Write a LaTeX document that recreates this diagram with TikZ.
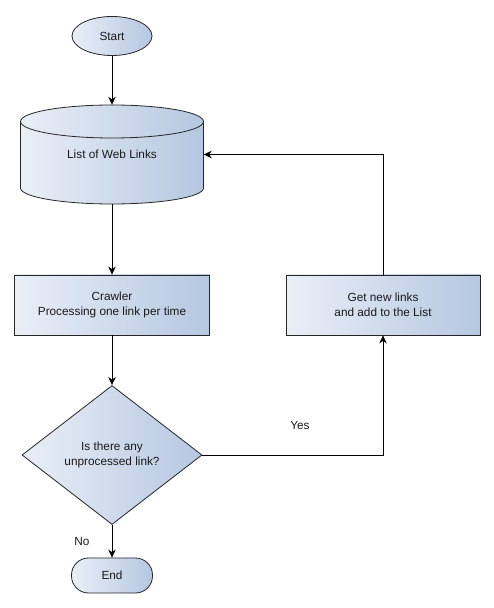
\documentclass[tikz,border=0pt]{standalone}
\usepackage{fontspec}
\setmainfont{Liberation Sans}
\usetikzlibrary{shapes.geometric,arrows.meta}
\definecolor{cL}{HTML}{EAEFF7}
\definecolor{cR}{HTML}{B5C7E1}
\definecolor{txt}{HTML}{1A1A1A}
\tikzset{
  every node/.style={font=\fontsize{11.8bp}{15bp}\selectfont, text=txt},
  line/.style={draw=black, line width=0.9bp},
  arr/.style={line, -{Stealth[length=8bp,width=7.5bp,inset=2.5bp]}},
  shadefill/.style={left color=cL, right color=cR},
  outline/.style={draw=black!85, line width=0.8bp},
  proc/.style={shadefill, outline, minimum width=195bp, minimum height=60bp, align=center, inner sep=0pt},
  terminal/.style={shadefill, outline, ellipse, minimum width=80bp, minimum height=39bp, inner sep=0pt},
  endbox/.style={shadefill, outline, rectangle, rounded corners=17bp, minimum width=81bp, minimum height=35bp, inner sep=0pt},
  decision/.style={shadefill, outline, diamond, minimum width=180bp, minimum height=139bp, aspect=1.295, align=center, inner sep=0pt},
}
\begin{document}
\begin{tikzpicture}[x=1bp,y=1bp]
\useasboundingbox (0,0) rectangle (494,608);
\fill[white] (0,0) rectangle (494,608);
% cylinder drawn directly
\path[shadefill] (20.5,486.5) -- (20.5,420) arc[start angle=180,end angle=360,x radius=91.5,y radius=16] -- (203.5,486.5) arc[start angle=0,end angle=180,x radius=91.5,y radius=16.5] -- cycle;
\draw[outline] (20.5,486.5) -- (20.5,420) arc[start angle=180,end angle=360,x radius=91.5,y radius=16] -- (203.5,486.5) arc[start angle=0,end angle=180,x radius=91.5,y radius=16.5] -- cycle;
\draw[outline] (20.5,486.5) arc[start angle=180,end angle=360,x radius=91.5,y radius=16.5];
\node (cyl) [minimum width=183bp, minimum height=99bp, inner sep=0pt] at (112,453.5) {List of Web Links};

\node (start) [terminal] at (112,572) {Start};
\node (crawler) [proc] at (112,303) {Crawler\\Processing one link per time};
\node (dec) [decision] at (112,153) {Is there any\\unprocessed link?};
\node (end) [endbox] at (112,32.5) {End};
\node (getnew) [proc, minimum width=194bp] at (383,303) {Get new links\\and add to the List};

\draw[arr] (start) -- (cyl);
\draw[arr] (cyl) -- (crawler);
\draw[arr] (crawler) -- (dec);
\draw[arr] (dec) -- (end);
\draw[arr] (dec.east) -| (getnew.south);
\draw[arr] (getnew.north) |- (cyl.east);

\node (yes) at (300,182) {Yes};
\node (no) at (82,66) {No};
\end{tikzpicture}
\end{document}
